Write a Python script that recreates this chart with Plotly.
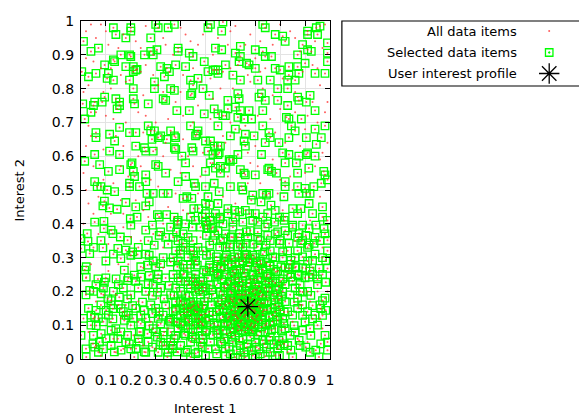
import plotly.graph_objects as go

# Selected data items (Interest 1, Interest 2), grouped by area of the plane
sel_upper = [
    (0.13,0.98),(0.14,0.96),(0.20,0.98),(0.20,0.97),(0.30,0.99),(0.31,0.98),(0.35,0.98),(0.375,0.99),
    (0.51,0.98),(0.52,0.99),(0.565,0.97),(0.57,0.997),(0.73,0.99),(0.74,0.98),(0.78,0.96),(0.81,0.955),
    (0.82,0.94),(0.91,0.97),(0.91,0.96),(0.95,0.96),(0.96,0.985),(0.945,0.98),(0.18,0.95),(0.28,0.95),
    (0.01,0.94),(0.04,0.91),(0.07,0.92),(0.16,0.90),(0.195,0.90),(0.20,0.895),(0.255,0.90),(0.28,0.91),
    (0.29,0.90),(0.305,0.915),(0.39,0.92),(0.39,0.91),(0.435,0.905),(0.45,0.895),(0.54,0.92),(0.565,0.915),
    (0.62,0.905),(0.64,0.925),(0.64,0.895),(0.635,0.88),(0.665,0.875),(0.675,0.87),(0.70,0.915),(0.73,0.91),
    (0.74,0.895),(0.765,0.895),(0.89,0.93),(0.91,0.915),(0.925,0.91),(0.87,0.90),(0.99,0.935),(0.99,0.905),
    (0.99,0.88),(0.095,0.87),(0.13,0.885),(0.135,0.88),(0.18,0.865),(0.21,0.865),(0.22,0.855),(0.32,0.865),
    (0.38,0.87),(0.42,0.865),(0.495,0.88),(0.54,0.855),(0.55,0.855),(0.58,0.87),(0.61,0.84),(0.64,0.825),
    (0.70,0.86),(0.78,0.86),(0.80,0.855),(0.835,0.865),(0.87,0.865),(0.875,0.845),(0.90,0.875),(0.003,0.85),
    (0.03,0.835),(0.06,0.845),(0.11,0.845),(0.105,0.83),(0.13,0.825),(0.195,0.825),(0.21,0.85),(0.225,0.857),
    (0.345,0.86),(0.355,0.85),(0.335,0.835),(0.44,0.825),(0.47,0.83),(0.45,0.81),(0.49,0.80),(0.53,0.855),
    (0.55,0.845),(0.51,0.85),(0.71,0.825),(0.76,0.825),(0.79,0.80),(0.83,0.80),(0.83,0.825),(0.835,0.84),
    (0.86,0.825),(0.94,0.845),(0.98,0.845),(0.21,0.80),(0.295,0.80),(0.295,0.82),(0.36,0.80),(0.375,0.795),
    (0.095,0.775),(0.055,0.76),(0.085,0.76),(0.14,0.77),(0.155,0.76),(0.155,0.75),(0.145,0.74),(0.21,0.77),
    (0.215,0.755),(0.27,0.755),(0.33,0.77),(0.34,0.765),(0.44,0.78),(0.445,0.785),(0.515,0.78),(0.59,0.765),
    (0.63,0.785),(0.635,0.77),(0.62,0.745),(0.64,0.735),(0.675,0.735),(0.715,0.775),(0.725,0.785),(0.74,0.765),
    (0.79,0.765),(0.83,0.75),(0.87,0.775),(0.875,0.765),(0.92,0.78),(0.905,0.76),(0.94,0.735),(0.007,0.755),
    (0.05,0.75),(0.04,0.73),(0.015,0.71),(0.385,0.735),(0.435,0.735),(0.495,0.725),(0.535,0.74),(0.55,0.725),
    (0.57,0.72),(0.58,0.72),(0.59,0.74),(0.63,0.715),(0.655,0.71),(0.685,0.71),(0.73,0.735),(0.825,0.715),
    (0.835,0.71),(0.885,0.71),(0.98,0.69),(0.06,0.67),(0.06,0.655),(0.115,0.665),(0.135,0.645),(0.155,0.685),
    (0.195,0.67),(0.22,0.67),(0.27,0.69),(0.28,0.675),(0.295,0.675),(0.285,0.65),(0.32,0.66),(0.36,0.675),
    (0.375,0.66),(0.38,0.655),(0.44,0.69),(0.46,0.66),(0.47,0.675),(0.465,0.665),(0.50,0.645),(0.52,0.645),
    (0.535,0.63),(0.55,0.63),(0.55,0.69),(0.60,0.66),(0.62,0.68),(0.66,0.665),(0.655,0.645),(0.695,0.66),
    (0.73,0.69),(0.755,0.67),(0.76,0.655),(0.74,0.64),(0.795,0.64),(0.835,0.655),(0.845,0.69),(0.86,0.675),
    (0.905,0.655),(0.94,0.68),(0.945,0.635),(0.965,0.655),(0.22,0.63),(0.255,0.625),(0.26,0.615),(0.29,0.615),
    (0.31,0.655),(0.345,0.65),(0.375,0.625),(0.38,0.62),(0.405,0.60),(0.42,0.58),(0.445,0.625),(0.45,0.615),
    (0.51,0.615),(0.53,0.605),(0.55,0.605),(0.56,0.63),(0.555,0.61),(0.595,0.59),(0.63,0.605),(0.60,0.585),
    (0.66,0.63),(0.725,0.605),(0.81,0.61),(0.835,0.605),(0.875,0.60),(0.905,0.605),(0.91,0.61),(0.94,0.60),
    (0.055,0.605),(0.115,0.615),(0.155,0.605),(0.015,0.585),(0.075,0.575),(0.11,0.555),(0.155,0.56),(0.205,0.58),
    (0.20,0.575),(0.21,0.555),(0.215,0.54),(0.26,0.545),(0.26,0.525),(0.30,0.575),(0.31,0.57),(0.34,0.55),
    (0.39,0.525),(0.42,0.54),(0.455,0.52),(0.46,0.51),(0.50,0.555),(0.52,0.58),(0.54,0.565),(0.56,0.57),
    (0.56,0.55),(0.58,0.565),(0.61,0.59),(0.64,0.56),(0.655,0.55),(0.66,0.545),(0.70,0.545),(0.75,0.56),
    (0.755,0.565),(0.765,0.555),(0.785,0.55),(0.82,0.58),(0.865,0.58),(0.87,0.55),(0.915,0.565),(0.975,0.555),
    (0.98,0.545),(0.99,0.53),(0.055,0.525),(0.065,0.51),(0.08,0.51),(0.105,0.50),(0.135,0.495),(0.195,0.51),
    (0.195,0.52),(0.235,0.51),(0.265,0.49),(0.29,0.49),(0.33,0.49),(0.35,0.49),(0.41,0.475),(0.425,0.48),
    (0.445,0.475),(0.50,0.51),(0.51,0.48),(0.535,0.52),(0.555,0.495),(0.60,0.51),(0.645,0.51),(0.65,0.50),
    (0.69,0.485),(0.73,0.49),(0.745,0.485),(0.755,0.49),(0.82,0.525),(0.82,0.51),(0.815,0.48),(0.87,0.51),
    (0.90,0.505),(0.875,0.49),(0.905,0.49),(0.92,0.49),(0.935,0.51),(0.965,0.52),
]

sel_mid_left = [
    (0.094,0.467),(0.088,0.453),(0.114,0.447),(0.145,0.443),(0.18,0.463),(0.22,0.45),(0.26,0.453),(0.274,0.465),
    (0.307,0.427),(0.314,0.42),(0.344,0.427),(0.374,0.42),(0.387,0.405),(0.453,0.445),(0.487,0.42),(0.50,0.405),
    (0.055,0.405),(0.092,0.407),(0.092,0.386),(0.121,0.381),(0.128,0.371),(0.158,0.361),(0.187,0.351),(0.198,0.415),
    (0.225,0.42),(0.20,0.396),(0.26,0.381),(0.287,0.396),(0.32,0.376),(0.314,0.366),(0.384,0.376),(0.387,0.398),
    (0.447,0.39),(0.41,0.342),(0.40,0.322),(0.44,0.322),(0.453,0.307),(0.46,0.292),(0.025,0.371),(0.028,0.348),
    (0.035,0.312),(0.088,0.329),(0.148,0.327),(0.18,0.322),(0.20,0.307),(0.16,0.297),(0.207,0.317),(0.227,0.309),
    (0.274,0.307),(0.294,0.337),(0.24,0.273),(0.267,0.278),(0.30,0.273),(0.32,0.282),(0.36,0.287),(0.387,0.273),
    (0.427,0.268),(0.467,0.278),(0.021,0.273),(0.015,0.263),(0.174,0.263),(0.214,0.248),(0.493,0.263),(0.507,0.386),
    (0.473,0.445),(0.50,0.46),(0.0,0.356),(0.0,0.327),
    (0.35,0.34),(0.37,0.36),(0.39,0.35),(0.41,0.37),(0.43,0.36),(0.45,0.35),(0.47,0.33),(0.49,0.32),
    (0.36,0.39),(0.39,0.41),(0.42,0.40),(0.44,0.42),(0.46,0.41),(0.48,0.39),(0.29,0.29),(0.33,0.30),
    (0.26,0.31),(0.23,0.33),(0.13,0.31),(0.10,0.29),(0.05,0.33),(0.08,0.35),(0.27,0.35),(0.34,0.36),
]

sel_mid_right = [
    (0.517,0.455),(0.55,0.46),(0.59,0.445),(0.617,0.44),(0.637,0.435),(0.677,0.43),(0.684,0.47),(0.723,0.465),
    (0.763,0.455),(0.797,0.42),(0.816,0.41),(0.85,0.445),(0.883,0.445),(0.916,0.46),(0.97,0.45),(0.517,0.42),
    (0.557,0.415),(0.504,0.396),(0.524,0.386),(0.57,0.40),(0.61,0.405),(0.65,0.405),(0.69,0.41),(0.71,0.405),
    (0.75,0.40),(0.777,0.405),(0.85,0.396),(0.89,0.396),(0.916,0.386),(0.943,0.396),(0.976,0.386),(0.99,0.351),
    (0.504,0.366),(0.537,0.366),(0.57,0.356),(0.604,0.361),(0.637,0.371),(0.664,0.376),(0.71,0.376),(0.75,0.366),
    (0.79,0.376),(0.83,0.366),(0.876,0.371),(0.903,0.366),(0.936,0.342),(0.517,0.337),(0.557,0.332),(0.597,0.332),
    (0.63,0.332),(0.664,0.342),(0.71,0.332),(0.743,0.337),(0.797,0.342),(0.836,0.342),(0.883,0.342),(0.916,0.337),
    (0.504,0.307),(0.544,0.302),(0.584,0.307),(0.617,0.302),(0.657,0.307),(0.69,0.307),(0.737,0.317),(0.77,0.302),
    (0.81,0.317),(0.843,0.292),(0.89,0.302),(0.93,0.292),(0.517,0.278),(0.564,0.273),(0.604,0.278),(0.637,0.282),
    (0.677,0.287),(0.723,0.282),(0.757,0.278),(0.803,0.273),(0.836,0.268),(0.863,0.273),(0.903,0.268),(0.957,0.268),
    (0.983,0.292),(0.99,0.268),(0.504,0.258),(0.55,0.253),(0.617,0.253),(0.664,0.263),(0.71,0.263),(0.783,0.258),
    (0.53,0.35),(0.55,0.38),(0.58,0.37),(0.61,0.39),(0.60,0.34),(0.63,0.36),(0.65,0.33),(0.67,0.36),
    (0.69,0.34),(0.72,0.35),(0.74,0.39),(0.56,0.42),(0.59,0.43),(0.62,0.42),(0.66,0.44),(0.70,0.43),
    (0.73,0.42),(0.52,0.31),(0.55,0.29),(0.58,0.30),(0.63,0.31),(0.66,0.30),(0.70,0.30),(0.73,0.31),
    (0.76,0.32),(0.78,0.30),(0.38,0.32),(0.40,0.31),(0.42,0.33),(0.39,0.29),(0.41,0.28),(0.43,0.30),
    (0.45,0.32),(0.44,0.28),(0.37,0.30),(0.46,0.29),
    (0.50,0.43),(0.52,0.41),(0.54,0.43),(0.53,0.39),(0.56,0.35),(0.58,0.33),(0.61,0.36),(0.64,0.34),
    (0.68,0.38),(0.71,0.36),(0.76,0.35),(0.78,0.37),(0.80,0.35),(0.82,0.38),(0.85,0.39),(0.87,0.36),
    (0.89,0.35),(0.91,0.33),(0.94,0.36),(0.96,0.35),(0.98,0.37),(0.81,0.30),(0.83,0.32),(0.87,0.32),
    (0.91,0.29),(0.94,0.31),(0.97,0.30),(0.99,0.32),(0.75,0.43),(0.78,0.44),(0.82,0.42),(0.87,0.43),
    (0.93,0.43),(0.97,0.42),(0.99,0.41),
]

sel_low_left = [
    (0.021,0.242),(0.068,0.237),(0.094,0.227),(0.141,0.237),(0.187,0.232),(0.24,0.242),(0.274,0.247),(0.307,0.237),
    (0.354,0.218),(0.414,0.252),(0.46,0.237),(0.035,0.203),(0.081,0.193),(0.108,0.178),(0.121,0.173),(0.154,0.183),
    (0.187,0.178),(0.207,0.158),(0.247,0.168),(0.287,0.188),(0.307,0.198),(0.334,0.178),(0.374,0.188),(0.40,0.173),
    (0.44,0.168),(0.46,0.218),(0.487,0.213),(0.061,0.144),(0.101,0.144),(0.128,0.149),(0.161,0.149),(0.181,0.129),
    (0.254,0.144),(0.287,0.134),(0.314,0.139),(0.354,0.114),(0.38,0.144),(0.414,0.149),(0.447,0.154),(0.467,0.139),
    (0.493,0.158),(0.055,0.124),(0.128,0.119),(0.174,0.114),(0.24,0.104),(0.274,0.099),(0.32,0.104),(0.36,0.109),
    (0.387,0.109),(0.434,0.109),(0.473,0.119),(0.50,0.134),(0.061,0.099),(0.0,0.07),(0.081,0.075),(0.121,0.085),
    (0.148,0.06),(0.187,0.07),(0.234,0.08),(0.267,0.075),(0.307,0.065),(0.334,0.08),(0.374,0.06),(0.414,0.075),
    (0.447,0.065),(0.487,0.07),(0.048,0.045),(0.055,0.035),(0.074,0.05),(0.121,0.04),(0.134,0.021),(0.161,0.026),
    (0.194,0.045),(0.221,0.031),(0.234,0.05),(0.254,0.021),(0.287,0.035),(0.32,0.05),(0.34,0.04),(0.367,0.031),
    (0.387,0.021),(0.427,0.026),(0.46,0.016),(0.487,0.035),(0.021,0.006),(0.214,0.006),(0.347,0.006),(0.44,0.006),
    (0.50,0.011),(0.427,0.139),(0.453,0.158),(0.473,0.154),(0.487,0.104),(0.50,0.08),
    (0.05,0.20),(0.09,0.21),(0.13,0.20),(0.17,0.21),(0.20,0.19),(0.23,0.21),(0.26,0.20),(0.29,0.22),
    (0.32,0.21),(0.03,0.15),(0.08,0.16),(0.11,0.13),(0.15,0.16),(0.19,0.13),(0.22,0.15),(0.26,0.12),
    (0.30,0.15),(0.33,0.13),(0.04,0.10),(0.09,0.11),(0.14,0.09),(0.20,0.10),(0.24,0.08),(0.29,0.09),
    (0.33,0.07),(0.36,0.05),(0.31,0.02),(0.27,0.05),(0.18,0.05),(0.10,0.06),(0.07,0.02),
    (0.40,0.20),(0.42,0.19),(0.44,0.21),(0.46,0.20),(0.48,0.19),(0.41,0.16),(0.43,0.15),(0.45,0.17),
    (0.47,0.16),(0.49,0.15),(0.40,0.13),(0.42,0.12),(0.44,0.13),(0.46,0.12),(0.48,0.11),(0.39,0.09),
    (0.41,0.10),(0.43,0.09),(0.45,0.08),(0.47,0.09),(0.49,0.10),(0.44,0.24),(0.46,0.25),(0.48,0.23),
    (0.42,0.23),(0.38,0.17),(0.37,0.14),(0.39,0.24),(0.455,0.145),(0.475,0.205),(0.415,0.135),(0.435,0.185),
    (0.36,0.19),(0.38,0.21),(0.40,0.23),(0.37,0.25),(0.41,0.25),(0.43,0.22),(0.45,0.23),(0.47,0.22),
    (0.49,0.20),(0.38,0.15),(0.40,0.17),(0.42,0.165),(0.44,0.15),(0.46,0.14),(0.48,0.13),(0.36,0.12),
    (0.38,0.11),(0.40,0.105),(0.43,0.115),(0.45,0.10),(0.47,0.105),(0.36,0.08),(0.38,0.07),(0.42,0.07),
    (0.44,0.05),(0.46,0.06),(0.48,0.05),(0.40,0.04),(0.42,0.02),(0.37,0.04),(0.35,0.02),(0.47,0.02),
    (0.02,0.19),(0.06,0.22),(0.10,0.24),(0.15,0.22),(0.19,0.24),(0.22,0.23),(0.27,0.22),(0.31,0.25),
    (0.34,0.24),(0.01,0.12),(0.04,0.13),(0.07,0.12),(0.12,0.16),(0.17,0.14),(0.21,0.12),(0.24,0.13),
    (0.28,0.16),(0.31,0.12),(0.34,0.16),(0.02,0.03),(0.05,0.07),(0.09,0.03),(0.13,0.06),(0.16,0.08),
    (0.20,0.03),(0.23,0.06),(0.26,0.02),(0.30,0.08),(0.33,0.04),
]

sel_low_right = [
    (0.81,0.237),(0.843,0.242),(0.876,0.247),(0.916,0.242),(0.95,0.237),(0.983,0.227),(0.89,0.198),(0.923,0.188),
    (0.97,0.173),(0.963,0.149),(0.983,0.144),(0.856,0.168),(0.816,0.139),(0.89,0.129),(0.93,0.119),(0.856,0.099),
    (0.89,0.085),(0.923,0.07),(0.963,0.045),(0.876,0.055),(0.903,0.035),(0.843,0.026),(0.943,0.026),(0.99,0.026),
    (0.956,0.006),(0.816,0.045),(0.797,0.011),(0.85,0.006),(0.97,0.129),(0.93,0.158),
    (0.83,0.25),(0.85,0.23),(0.87,0.25),(0.84,0.28),(0.86,0.21),(0.88,0.22),(0.82,0.22),(0.89,0.27),
    (0.86,0.30),(0.84,0.19),(0.87,0.18),(0.90,0.24),(0.91,0.20),
    (0.83,0.14),(0.85,0.13),(0.87,0.15),(0.89,0.16),(0.91,0.14),(0.94,0.13),(0.96,0.16),(0.98,0.18),
    (0.95,0.22),(0.97,0.25),(0.93,0.25),(0.88,0.20),(0.90,0.11),(0.92,0.09),(0.95,0.10),(0.98,0.07),
    (0.84,0.07),(0.86,0.08),(0.88,0.04),(0.92,0.02),(0.99,0.05),(0.83,0.04),(0.86,0.27),(0.92,0.26),
    (0.82,0.27),
]

# Dense group of selected items around the interest profile
sel_cluster = [
    (0.66,0.16),(0.68,0.15),(0.67,0.17),(0.65,0.14),(0.69,0.16),(0.66,0.13),(0.70,0.14),(0.64,0.17),
    (0.68,0.18),(0.71,0.17),(0.63,0.15),(0.67,0.12),(0.69,0.12),(0.65,0.19),(0.62,0.13),(0.72,0.15),
    (0.66,0.20),(0.70,0.19),(0.64,0.11),(0.68,0.10),(0.61,0.17),(0.73,0.13),(0.63,0.19),(0.71,0.11),
    (0.66,0.105),(0.675,0.135),(0.655,0.175),(0.685,0.165),(0.645,0.155),(0.695,0.145),(0.715,0.185),(0.625,0.165),
    (0.605,0.145),(0.735,0.165),(0.665,0.215),(0.695,0.205),(0.635,0.205),(0.655,0.095),(0.695,0.095),(0.615,0.115),
    (0.725,0.115),(0.745,0.145),(0.595,0.165),(0.745,0.185),(0.605,0.195),(0.675,0.225),(0.715,0.215),(0.635,0.225),
    (0.685,0.085),(0.645,0.085),(0.725,0.095),(0.585,0.135),(0.755,0.125),
    (0.58,0.18),(0.57,0.15),(0.56,0.12),(0.59,0.10),(0.60,0.08),(0.62,0.07),(0.65,0.06),(0.68,0.065),
    (0.71,0.07),(0.74,0.08),(0.76,0.10),(0.77,0.13),(0.78,0.16),(0.77,0.19),(0.76,0.21),(0.74,0.23),
    (0.72,0.24),(0.69,0.25),(0.66,0.245),(0.63,0.24),(0.60,0.23),(0.58,0.21),(0.56,0.20),(0.55,0.17),
    (0.545,0.14),(0.55,0.10),(0.57,0.085),(0.61,0.05),(0.64,0.04),(0.67,0.045),(0.70,0.05),(0.73,0.055),
    (0.76,0.065),(0.78,0.09),(0.79,0.115),(0.80,0.145),(0.795,0.175),(0.785,0.205),(0.77,0.23),(0.75,0.25),
    (0.73,0.265),(0.70,0.27),(0.67,0.275),(0.64,0.265),(0.61,0.26),(0.585,0.25),(0.565,0.235),(0.545,0.22),
    (0.53,0.19),(0.525,0.16),(0.53,0.13),(0.535,0.105),(0.55,0.075),(0.575,0.06),(0.595,0.035),(0.625,0.025),
    (0.655,0.02),(0.685,0.025),(0.715,0.03),(0.745,0.035),(0.775,0.045),
    (0.60,0.20),(0.62,0.21),(0.59,0.12),(0.58,0.16),(0.61,0.09),(0.63,0.10),(0.64,0.13),(0.70,0.22),
    (0.72,0.20),(0.74,0.21),(0.75,0.17),(0.76,0.15),(0.73,0.19),(0.74,0.10),(0.72,0.08),(0.69,0.08),
    (0.66,0.08),(0.63,0.085),(0.60,0.105),(0.57,0.125),(0.56,0.16),(0.57,0.19),(0.59,0.22),(0.62,0.235),
    (0.65,0.23),(0.68,0.235),(0.71,0.235),(0.705,0.165),(0.655,0.145),(0.685,0.125),(0.645,0.115),(0.615,0.18),
    (0.725,0.165),(0.70,0.115),(0.62,0.14),(0.60,0.18),(0.75,0.20),(0.66,0.19),(0.69,0.20),(0.73,0.14),
    (0.71,0.13),(0.64,0.19),(0.67,0.09),(0.70,0.10),(0.63,0.12),(0.61,0.13),(0.77,0.11),(0.78,0.14),
    (0.79,0.19),(0.78,0.225),(0.76,0.24),(0.55,0.25),(0.52,0.22),(0.51,0.18),(0.515,0.14),(0.52,0.10),
    (0.53,0.07),(0.56,0.05),(0.58,0.03),(0.60,0.015),(0.64,0.01),(0.69,0.01),(0.72,0.015),(0.76,0.02),
    (0.79,0.03),(0.81,0.06),(0.82,0.09),(0.81,0.12),(0.82,0.17),(0.81,0.20),(0.80,0.23),(0.79,0.26),
    (0.76,0.275),(0.72,0.29),(0.68,0.295),(0.65,0.29),(0.62,0.285),(0.59,0.28),(0.56,0.27),(0.53,0.26),
    (0.51,0.24),(0.50,0.21),(0.495,0.17),(0.50,0.12),(0.505,0.085),(0.52,0.05),(0.54,0.03),
    (0.665,0.145),(0.675,0.165),(0.655,0.165),(0.685,0.145),(0.645,0.135),(0.695,0.175),(0.635,0.175),(0.705,0.125),
    (0.625,0.125),(0.715,0.155),(0.615,0.155),(0.675,0.195),(0.655,0.125),(0.685,0.105),(0.635,0.095),(0.705,0.205),
    (0.645,0.215),(0.725,0.185),(0.605,0.175),(0.735,0.145),(0.595,0.125),(0.745,0.105),(0.575,0.105),(0.765,0.085),
    (0.585,0.075),(0.755,0.225),(0.575,0.215),(0.555,0.145),(0.785,0.125),(0.565,0.175),(0.775,0.175),(0.615,0.215),
    (0.695,0.235),(0.655,0.255),(0.625,0.265),(0.715,0.255),(0.745,0.245),(0.605,0.245),(0.575,0.265),(0.545,0.245),
    (0.525,0.205),(0.515,0.115),(0.545,0.085),(0.565,0.045),(0.605,0.065),(0.635,0.055),(0.665,0.035),(0.705,0.035),
    (0.735,0.045),(0.755,0.055),(0.795,0.055),(0.805,0.085),(0.815,0.105),(0.795,0.155),(0.805,0.185),(0.795,0.215),
    (0.775,0.265),(0.745,0.285),(0.705,0.285),(0.665,0.31),(0.635,0.30),(0.605,0.295),(0.575,0.29),(0.545,0.275),
    (0.515,0.27),(0.49,0.23),(0.485,0.13),(0.49,0.06),(0.51,0.03),(0.545,0.015),(0.58,0.01),(0.62,0.005),
    (0.66,0.005),(0.70,0.005),(0.74,0.008),(0.78,0.01),(0.80,0.04),
]

# Data items that were not selected
unselected = [
    (0.02,0.97),(0.08,0.99),(0.11,0.93),(0.17,0.96),(0.24,0.92),(0.33,0.95),(0.37,0.90),(0.42,0.96),
    (0.47,0.93),(0.53,0.90),(0.60,0.97),(0.66,0.93),(0.70,0.89),(0.77,0.93),(0.84,0.97),(0.88,0.91),
    (0.94,0.94),(0.98,0.99),(0.05,0.88),(0.12,0.86),(0.26,0.87),(0.45,0.86),(0.57,0.85),(0.63,0.87),
    (0.74,0.86),(0.93,0.87),(0.03,0.81),(0.09,0.79),(0.18,0.82),(0.31,0.81),(0.40,0.79),(0.48,0.82),
    (0.56,0.80),(0.68,0.82),(0.77,0.78),(0.96,0.81),(0.06,0.73),(0.13,0.71),(0.23,0.73),(0.30,0.70),
    (0.41,0.72),(0.47,0.75),(0.60,0.70),(0.71,0.72),(0.80,0.74),(0.91,0.72),(0.99,0.76),(0.04,0.66),
    (0.17,0.63),(0.25,0.67),(0.34,0.64),(0.43,0.60),(0.58,0.64),(0.67,0.61),(0.78,0.67),(0.88,0.63),
    (0.97,0.61),(0.01,0.55),(0.09,0.53),(0.16,0.57),(0.28,0.53),(0.36,0.56),(0.48,0.54),(0.53,0.58),
    (0.71,0.57),(0.84,0.54),(0.94,0.57),(0.03,0.46),(0.12,0.43),(0.22,0.47),(0.27,0.42),(0.35,0.45),
    (0.43,0.43),(0.62,0.46),(0.81,0.44),(0.92,0.41),(0.07,0.37),(0.17,0.39),(0.24,0.35),(0.33,0.33),
    (0.48,0.36),(0.86,0.35),(0.97,0.33),(0.02,0.24),(0.11,0.26),(0.19,0.28),(0.28,0.25),(0.36,0.22),
    (0.93,0.27),(0.06,0.17),(0.14,0.19),(0.23,0.17),(0.31,0.18),(0.88,0.16),(0.95,0.20),(0.03,0.08),
    (0.12,0.11),(0.21,0.07),(0.28,0.11),(0.35,0.09),(0.85,0.11),(0.97,0.09),(0.08,0.01),(0.17,0.03),
    (0.39,0.02),(0.48,0.04),(0.83,0.02),(0.91,0.05),
    (0.04,0.99),(0.06,0.95),(0.10,0.97),(0.15,0.92),(0.22,0.94),(0.26,0.985),(0.34,0.93),(0.40,0.98),
    (0.44,0.94),(0.49,0.96),(0.55,0.95),(0.59,0.93),(0.62,0.985),(0.68,0.96),(0.72,0.94),(0.80,0.99),
    (0.86,0.95),(0.97,0.92),(0.02,0.89),(0.08,0.86),(0.16,0.84),(0.24,0.85),(0.29,0.84),(0.41,0.84),
    (0.52,0.83),(0.60,0.86),(0.67,0.84),(0.72,0.85),(0.81,0.83),(0.89,0.85),(0.95,0.86),(0.01,0.79),
    (0.12,0.80),(0.25,0.78),(0.33,0.79),(0.38,0.76),(0.53,0.77),(0.61,0.80),(0.73,0.80),(0.86,0.79),
    (0.93,0.76),(0.98,0.73),(0.03,0.69),(0.10,0.72),(0.18,0.70),(0.26,0.72),(0.35,0.71),(0.45,0.70),
    (0.52,0.71),(0.66,0.69),(0.76,0.71),(0.86,0.73),(0.95,0.70),(0.02,0.63),(0.09,0.62),(0.14,0.66),
    (0.23,0.60),(0.30,0.62),(0.41,0.65),(0.49,0.61),(0.57,0.66),(0.64,0.68),(0.70,0.63),(0.82,0.64),
    (0.90,0.68),(0.99,0.64),(0.05,0.57),(0.13,0.52),(0.19,0.54),(0.24,0.57),(0.33,0.60),(0.40,0.55),
    (0.45,0.57),(0.59,0.54),(0.68,0.58),(0.77,0.59),(0.80,0.53),(0.90,0.55),(0.96,0.59),(0.02,0.50),
    (0.07,0.48),(0.16,0.47),(0.31,0.51),(0.38,0.49),(0.47,0.49),(0.57,0.48),(0.67,0.52),(0.72,0.52),
    (0.79,0.49),(0.85,0.50),(0.96,0.48),(0.05,0.43),(0.17,0.43),(0.25,0.44),(0.33,0.40),(0.41,0.44),
    (0.01,0.40),(0.11,0.34),(0.20,0.36),(0.29,0.37),(0.04,0.28),(0.15,0.28),(0.25,0.27),(0.33,0.27),
    (0.09,0.19),(0.18,0.16),(0.27,0.19),(0.35,0.15),(0.05,0.12),(0.16,0.12),(0.23,0.11),(0.31,0.10),
    (0.06,0.04),(0.14,0.02),(0.25,0.04),(0.30,0.03),(0.92,0.17),(0.96,0.12),(0.87,0.06),(0.99,0.20),
]

# User interest profile
profile_x = [0.67]
profile_y = [0.155]

tick_vals = [i / 10 for i in range(11)]
tick_text = ["0", "0.1", "0.2", "0.3", "0.4", "0.5", "0.6", "0.7", "0.8", "0.9", "1"]

selected = sel_upper + sel_mid_left + sel_mid_right + sel_low_left + sel_low_right + sel_cluster
all_items = selected + unselected
sel_x = [p[0] for p in selected]
sel_y = [p[1] for p in selected]
all_x = [p[0] for p in all_items]
all_y = [p[1] for p in all_items]

FONT = "DejaVu Sans"
GREEN = "#00ff00"
RED = "rgba(255,40,40,0.75)"

# Page geometry (pixels) and the paper fraction taken by the plot
W, H = 579, 417
ML, MR, MT, MB = 81, 0, 21, 58
plot_w = 251
x_dom = plot_w / (W - ML - MR)

fig = go.Figure()
fig.add_trace(go.Scatter(
    x=sel_x, y=sel_y, mode="markers", name="Selected data items",
    marker=dict(symbol="square-open", size=7.5, color=GREEN, line=dict(width=1.3, color=GREEN)),
    hoverinfo="skip", showlegend=False,
))
fig.add_trace(go.Scatter(
    x=all_x, y=all_y, mode="markers", name="All data items",
    marker=dict(symbol="circle", size=2, color=RED, line=dict(width=0)),
    hoverinfo="skip", showlegend=False,
))
fig.add_trace(go.Scatter(
    x=profile_x, y=profile_y, mode="markers", name="User interest profile",
    marker=dict(symbol="asterisk-open", size=17, color="black", line=dict(width=1.3, color="black")),
    hoverinfo="skip", showlegend=False,
))
fig.add_trace(go.Scatter(
    x=profile_x, y=profile_y, mode="markers", hoverinfo="skip", showlegend=False,
    marker=dict(symbol="circle", size=3, color="black"),
))

# Key drawn in its own small axis box to the right of the plot
key_top, key_bottom = 1.0, (H - MB - 86) / (H - MT - MB)
key_left = (344 - ML) / (W - ML - MR)
key_rows = [(H - MB - r) / (H - MT - MB) for r in (31, 52.5, 73.5)]
key_text_x = (523 - ML) / (W - ML - MR)
key_sample_x = (553 - ML) / (W - ML - MR)
key_labels = ["All data items", "Selected data items", "User interest profile"]
key_markers = [
    dict(symbol="circle", size=2, color=RED),
    dict(symbol="square-open-dot", size=7.5, color=GREEN, line=dict(width=1.3, color=GREEN)),
    dict(symbol="asterisk-open", size=17, color="black", line=dict(width=1.3, color="black")),
]
for row, mk in zip(key_rows, key_markers):
    fig.add_trace(go.Scatter(
        x=[key_sample_x], y=[row], xaxis="x2", yaxis="y2", mode="markers",
        marker=mk, hoverinfo="skip", showlegend=False,
    ))

annotations = [
    dict(text=lbl, x=key_text_x, y=row, xref="paper", yref="paper", xanchor="right",
         yanchor="middle", showarrow=False, font=dict(family=FONT, size=13, color="black"))
    for lbl, row in zip(key_labels, key_rows)
]
annotations += [
    dict(text="Interest 1", x=x_dom / 2, y=-(408 - (H - MB)) / (H - MT - MB), xref="paper",
         yref="paper", xanchor="center", yanchor="middle", showarrow=False,
         font=dict(family=FONT, size=13, color="black")),
    dict(text="Interest 2", x=-(ML - 18) / (W - ML - MR), y=0.5, xref="paper", yref="paper",
         xanchor="center", yanchor="middle", textangle=-90, showarrow=False,
         font=dict(family=FONT, size=13, color="black")),
]

axis_common = dict(
    range=[0, 1], tickvals=tick_vals, ticktext=tick_text, ticks="inside", ticklen=5,
    tickwidth=1, tickcolor="black", showline=True, linecolor="black", linewidth=1.2,
    mirror="ticks", showgrid=True, gridcolor="#e3e3e3", gridwidth=1, zeroline=False,
    tickfont=dict(family=FONT, size=14, color="black"), tickangle=0,
)

fig.update_layout(
    width=W, height=H,
    margin=dict(l=ML, r=MR, t=MT, b=MB, pad=0),
    paper_bgcolor="white", plot_bgcolor="white",
    xaxis=dict(domain=[0, x_dom], ticklabelstandoff=8, **axis_common),
    yaxis=dict(domain=[0, 1], ticklabelstandoff=3, **axis_common),
    xaxis2=dict(domain=[key_left, 1], range=[key_left, 1], visible=False, fixedrange=True,
                anchor="y2"),
    yaxis2=dict(domain=[key_bottom, key_top], range=[key_bottom, key_top], visible=False,
                fixedrange=True, anchor="x2"),
    shapes=[dict(type="rect", xref="paper", yref="paper", x0=key_left, x1=1.01,
                 y0=key_bottom, y1=key_top, line=dict(color="black", width=1.2),
                 fillcolor="rgba(0,0,0,0)")],
    annotations=annotations,
    showlegend=False,
)

fig.write_html("out.html")
